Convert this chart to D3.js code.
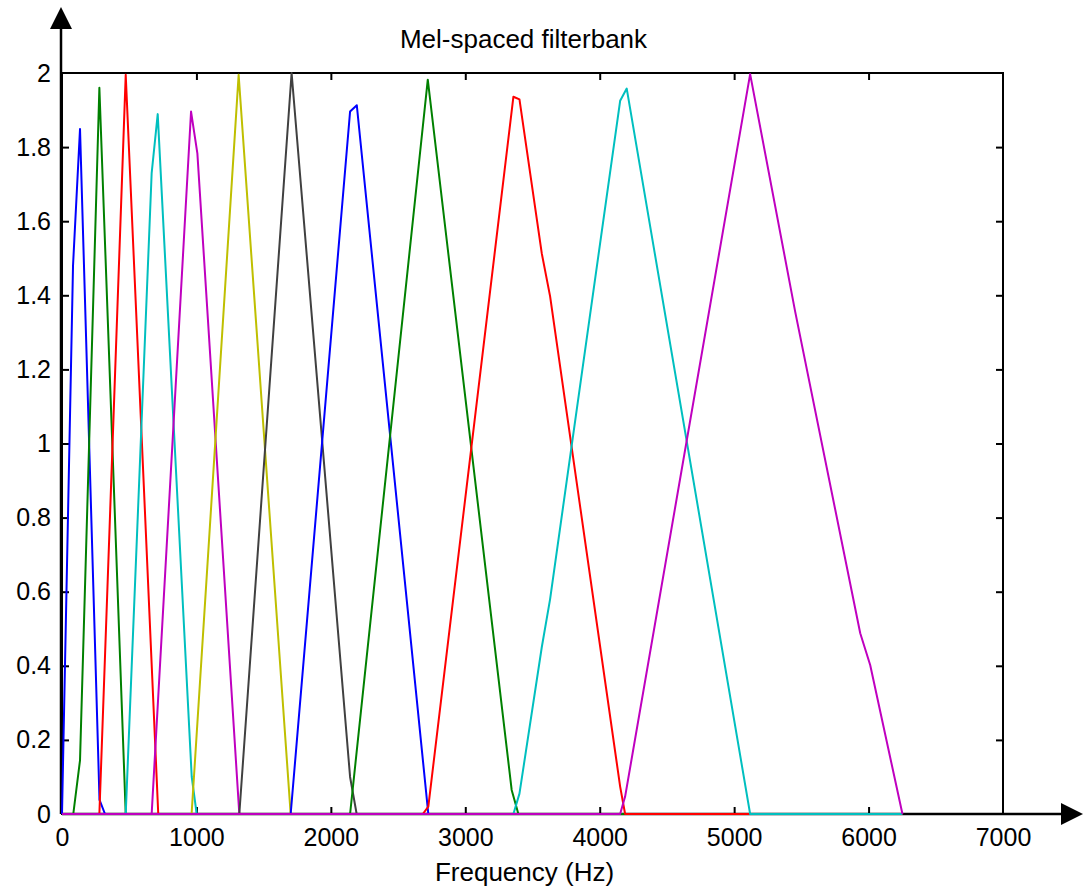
<!DOCTYPE html>
<html><head><meta charset="utf-8">
<script src="https://cdn.jsdelivr.net/npm/d3@7"></script>
<style>
body{margin:0;background:#fff;}
text{font-family:"Liberation Sans",Arial,Helvetica,sans-serif;fill:#000;}
</style></head>
<body>
<svg id="chart" width="1085" height="888"></svg>
<script>
// ---- data (frequency in Hz, filter amplitude) ----
const f1Hz  = [0, 82, 134, 279, 320, 6250];
const f1Amp = [0, 1.48, 1.849, 0.038, 0, 0];
const f2Hz  = [0, 84, 134, 278, 474, 6250];
const f2Amp = [0, 0, 0.145, 1.96, 0, 0];
const f3Hz  = [0, 278, 474, 716, 6250];
const f3Amp = [0, 0, 1.995, 0, 0];
const f4Hz  = [0, 474, 667, 712, 965, 1002, 6250];
const f4Amp = [0, 0, 1.73, 1.889, 0.10, 0, 0];
const f5Hz  = [0, 667, 960, 1007, 1319, 6250];
const f5Amp = [0, 0, 1.896, 1.783, 0, 0];
const f6Hz  = [0, 964, 1314, 1701, 6250];
const f6Amp = [0, 0, 1.995, 0, 0];
const f7Hz  = [0, 1319, 1708, 2143, 2192, 6250];
const f7Amp = [0, 0, 2.0, 0.10, 0, 0];
const f8Hz  = [0, 1701, 2143, 2193, 2725, 6250];
const f8Amp = [0, 0, 1.896, 1.913, 0, 0];
const f9Hz  = [0, 2143, 2721, 3345, 3395, 6250];
const f9Amp = [0, 0, 1.982, 0.065, 0, 0];
const f10Hz  = [0, 2684, 2725, 3358, 3403, 3569, 3631, 4152, 4189, 6250];
const f10Amp = [0, 0, 0.02, 1.936, 1.929, 1.513, 1.397, 0.074, 0, 0];
const f11Hz  = [0, 3358, 3403, 3569, 3631, 4152, 4201, 5119, 6250];
const f11Amp = [0, 0, 0.055, 0.45, 0.58, 1.925, 1.958, 0, 0];
const f12Hz  = [0, 4152, 4189, 5119, 5454, 5938, 6012, 6252];
const f12Amp = [0, 0, 0.047, 1.997, 1.356, 0.488, 0.402, 0];

const filterColors = ["#0000ff","#008000","#ff0000","#00bfbf","#bf00bf","#bfbf00","#404040",
                      "#0000ff","#008000","#ff0000","#00bfbf","#bf00bf"];
const xTickValues = [0,1000,2000,3000,4000,5000,6000,7000];
const yTickValues = [0,0.2,0.4,0.6,0.8,1,1.2,1.4,1.6,1.8,2];
const yTickLabels = ["0","0.2","0.4","0.6","0.8","1","1.2","1.4","1.6","1.8","2"];
const titleText = "Mel-spaced filterbank";
const xLabelText = "Frequency (Hz)";

const filters = [
  [f1Hz,f1Amp],[f2Hz,f2Amp],[f3Hz,f3Amp],[f4Hz,f4Amp],[f5Hz,f5Amp],[f6Hz,f6Amp],
  [f7Hz,f7Amp],[f8Hz,f8Amp],[f9Hz,f9Amp],[f10Hz,f10Amp],[f11Hz,f11Amp],[f12Hz,f12Amp]
].map(([hz,amp]) => hz.map((h,i)=>({f:h,v:amp[i]})));

// ---- layout ----
const L = 62, R = 1003, T = 73, B = 814;
const svg = d3.select("#chart");
const x = d3.scaleLinear().domain([0,7000]).range([L,R]);
const y = d3.scaleLinear().domain([0,2]).range([B,T]);

// plot box
svg.append("rect").attr("x",L).attr("y",T).attr("width",R-L).attr("height",B-T)
  .attr("fill","none").attr("stroke","#000").attr("stroke-width",2);

// axes with inward ticks
const fontSize = 25;
const gx = svg.append("g").attr("transform",`translate(0,${B})`)
  .call(d3.axisBottom(x).tickValues(xTickValues).tickFormat(d3.format("d"))
    .tickSizeInner(-7).tickSizeOuter(0).tickPadding(14));
const gxt = svg.append("g").attr("transform",`translate(0,${T})`)
  .call(d3.axisTop(x).tickValues(xTickValues).tickFormat("").tickSizeInner(-7).tickSizeOuter(0));
const gy = svg.append("g").attr("transform",`translate(${L},0)`)
  .call(d3.axisLeft(y).tickValues(yTickValues).tickFormat((d,i)=>yTickLabels[i])
    .tickSizeInner(-7).tickSizeOuter(0).tickPadding(12));
const gyr = svg.append("g").attr("transform",`translate(${R},0)`)
  .call(d3.axisRight(y).tickValues(yTickValues).tickFormat("").tickSizeInner(-7).tickSizeOuter(0));
[gx,gxt,gy,gyr].forEach(g=>{
  g.select(".domain").remove();
  g.selectAll(".tick line").attr("stroke","#000").attr("stroke-width",2);
  g.selectAll(".tick text").style("font-size",fontSize+"px")
   .style("font-family","'Liberation Sans',Arial,Helvetica,sans-serif").attr("fill","#000");
});
gy.selectAll(".tick text").attr("x",-11);
// hide tick marks at the box corners (box already drawn)
gx.selectAll(".tick line").filter(d=>d===0||d===7000).remove();
gxt.selectAll(".tick line").filter(d=>d===0||d===7000).remove();
gy.selectAll(".tick line").filter(d=>d===0||d===2).remove();
gyr.selectAll(".tick line").filter(d=>d===0||d===2).remove();

// arrows
svg.append("line").attr("x1",L-1).attr("y1",B).attr("x2",L-1).attr("y2",29)
  .attr("stroke","#000").attr("stroke-width",2.5);
svg.append("path").attr("d",`M${L-1},7 L${L-12},29 L${L+10},29 Z`).attr("fill","#000");
svg.append("line").attr("x1",L).attr("y1",B).attr("x2",1062).attr("y2",B)
  .attr("stroke","#000").attr("stroke-width",2.5);
svg.append("path").attr("d",`M1083,${B} L1061,${B-11} L1061,${B+11} Z`).attr("fill","#000");

// filter lines
const line = d3.line().x(d=>x(d.f)).y(d=>y(d.v));
svg.append("g").selectAll("path").data(filters).join("path")
  .attr("d",line).attr("fill","none")
  .attr("stroke",(d,i)=>filterColors[i]).attr("stroke-width",2)
  .attr("stroke-linejoin","round");

// title and label
svg.append("text").attr("x",(L+R)/2-9).attr("y",48).attr("text-anchor","middle")
  .style("font-size","26px").text(titleText);
svg.append("text").attr("x",(L+R)/2-8).attr("y",881).attr("text-anchor","middle")
  .style("font-size","26px").text(xLabelText);
</script>
</body></html>
